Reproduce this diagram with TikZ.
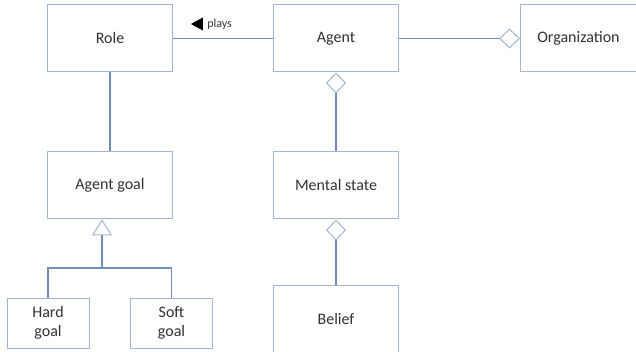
\documentclass[tikz,border=0pt]{standalone}
\usepackage{fontspec}
\setmainfont{Carlito}
\usetikzlibrary{shapes.geometric,arrows.meta,positioning}
\definecolor{boxline}{RGB}{160,182,212}
\definecolor{connline}{RGB}{112,142,185}
\definecolor{labeltext}{RGB}{50,50,50}
\tikzset{
	classbox/.style={rectangle, draw=boxline, line width=1pt, fill=white,
		minimum width=125pt, minimum height=67pt, align=center,
		font=\fontsize{16}{19}\selectfont, text=labeltext, inner sep=2pt},
	smallbox/.style={classbox, minimum width=82pt, minimum height=50pt},
	assoc/.style={draw=connline, line width=1.6pt},
	aggr/.style={assoc, {Diamond[open, length=21pt, width=20pt, line width=1pt, color=boxline]}-},
	gener/.style={assoc, {Triangle[open, length=16pt, width=20pt, line width=1pt, color=boxline]}-}
}
\begin{document}
\begin{tikzpicture}[x=1pt, y=-1pt, node distance=79pt]
	\useasboundingbox (0,0) rectangle (636,352);
	\node[classbox] (role) at (110,38.5) {Role};
	\node[classbox, right=100pt of role] (agent) {Agent};
	\node[classbox, right=121pt of agent, minimum width=116pt] (org) {Organization};
	\node[classbox, below=of role] (agentgoal) {Agent goal};
	\node[classbox, below=of agent] (mental) {Mental state};
	\node[classbox, below=65pt of mental] (belief) {Belief};
	\node[smallbox] (hard) at (48,323) {Hard\\goal};
	\node[smallbox] (soft) at (171.5,323) {Soft\\goal};
	\node[isosceles triangle, isosceles triangle stretches, shape border rotate=180,
		fill=black, inner sep=0pt, minimum height=12pt, minimum width=13pt] (playsmark) at (199,24) {};
	\node[right=4pt of playsmark, font=\fontsize{12}{14}\selectfont, text=labeltext, inner sep=0pt] (playslabel) {plays};
	\coordinate (branch) at (102,268);
	\draw[assoc] (role) -- (agent);
	\draw[aggr] (org) -- (agent);
	\draw[aggr] (agent) -- (mental);
	\draw[aggr] (mental) -- (belief);
	\draw[assoc] (role) -- (agentgoal);
	\draw[gener] (agentgoal.south -| branch) -- (branch);
	\draw[assoc] (hard.north) |- (branch) -| (soft.north);
\end{tikzpicture}
\end{document}
